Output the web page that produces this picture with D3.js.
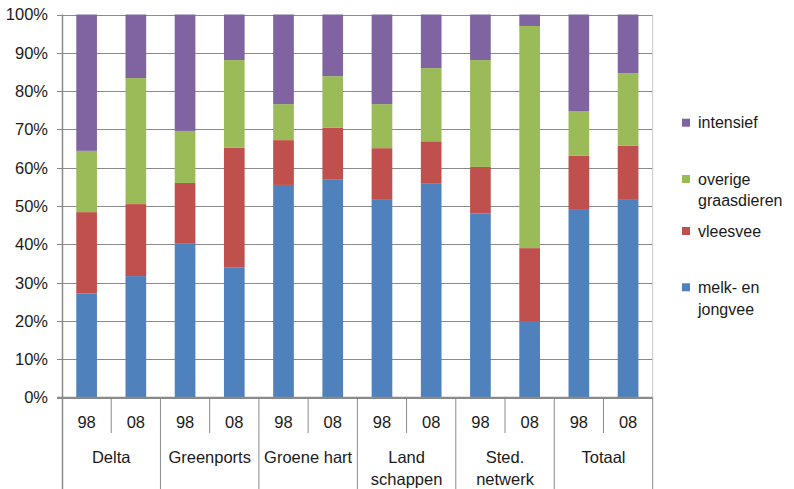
<!DOCTYPE html>
<html><head><meta charset="utf-8">
<script src="https://cdn.jsdelivr.net/npm/d3@7"></script>
<style>body{margin:0;background:#fff}svg{display:block}text{font-family:"Liberation Sans",Arial,sans-serif;fill:#1a1a1a}</style>
</head><body><svg id="c" width="794" height="489"></svg>
<script>
const groups = [["Delta"],["Greenports"],["Groene hart"],["Land","schappen"],["Sted.","netwerk"],["Totaal"]];
const years = ["98","08"];
const seriesNames = ["melk- en jongvee","vleesvee","overige graasdieren","intensief"];
const legendLines = [["melk- en","jongvee"],["vleesvee"],["overige","graasdieren"],["intensief"]];
const colors = ["#4F81BD","#C0504D","#9BBB59","#8064A2"];
const melk      = [27.2,31.7,40.3,34.0,55.5,57.0,51.8,55.8,48.0,19.9,49.2,51.6];
const vlees     = [21.2,18.8,15.7,31.2,11.7,13.4,13.3,11.1,12.2,19.1,13.9,14.1];
const overige   = [16.0,32.9,13.6,22.9, 9.4,13.5,11.5,19.1,27.9,58.0,11.7,19.0];
const intensief = [35.6,16.6,30.4,11.9,23.4,16.1,23.4,14.0,11.9, 3.0,25.2,15.3];
const yTicks = [0,10,20,30,40,50,60,70,80,90,100];

const svg = d3.select("#c");
const L = 62, R = 652.7, T = 14.5, B = 397.5;
const series = [melk, vlees, overige, intensief];
const n = melk.length;
const rows = d3.range(n).map(i => { const o = {i}; seriesNames.forEach((s,k)=>o[s]=series[k][i]); return o; });
const stack = d3.stack().keys(seriesNames)(rows);

const x = d3.scaleBand().domain(d3.range(n)).range([L,R]).paddingInner(0.58).paddingOuter(0.29);
const y = d3.scaleLinear().domain([0,100]).range([B,T]);
const grid = "#8a8a8a";

// gridlines
svg.append("g").selectAll("line").data(yTicks).join("line")
  .attr("x1",L-5).attr("x2",R).attr("y1",d=>Math.round(y(d))+0.5).attr("y2",d=>Math.round(y(d))+0.5)
  .attr("stroke",grid).attr("stroke-width",1);
// frame right
svg.append("line").attr("x1",R).attr("x2",R).attr("y1",T).attr("y2",B).attr("stroke","#c8c8c8");

// bars
svg.append("g").selectAll("g").data(stack).join("g").attr("fill",(d,k)=>colors[k])
  .selectAll("rect").data(d=>d).join("rect")
  .attr("x",(d,i)=>x(i)).attr("width",x.bandwidth())
  .attr("y",d=>y(d[1])).attr("height",d=>y(d[0])-y(d[1]));

// y labels
svg.append("g").selectAll("text").data(yTicks).join("text")
  .attr("x",48).attr("y",d=>y(d)).attr("dy","0.36em").attr("text-anchor","end")
  .attr("font-size",16.5).text(d=>d+"%");

// axes lines
svg.append("line").attr("x1",Math.round(L)+0.5).attr("x2",Math.round(L)+0.5).attr("y1",T).attr("y2",489).attr("stroke",grid).attr("stroke-width",1.5);
svg.append("line").attr("x1",L-5).attr("x2",R).attr("y1",B).attr("y2",B).attr("stroke",grid).attr("stroke-width",1.5);

const step = x.step();
// separators between bars
d3.range(1,n+1).forEach(i=>{
  const xx = L + i*step;
  const isGroup = i%2===0;
  svg.append("line").attr("x1",xx).attr("x2",xx).attr("y1",B).attr("y2",isGroup?489:433)
    .attr("stroke",grid).attr("stroke-width",1);
});
// year labels
svg.append("g").selectAll("text").data(d3.range(n)).join("text")
  .attr("x",i=>x(i)+x.bandwidth()/2).attr("y",422).attr("dy","0.36em").attr("text-anchor","middle")
  .attr("font-size",16.5).text(i=>years[i%2]);
// group labels
groups.forEach((g,gi)=>{
  const cx = L + (gi*2+1)*step;
  g.forEach((line,li)=>{
    svg.append("text").attr("x",cx).attr("y",457+li*22).attr("dy","0.36em").attr("text-anchor","middle")
      .attr("font-size",16.5).text(line);
  });
});

// legend
const legY = [287.3,231,179,122.7];
seriesNames.forEach((s,k)=>{
  svg.append("rect").attr("x",682).attr("y",legY[k]-4).attr("width",8).attr("height",8).attr("fill",colors[k]);
  legendLines[k].forEach((line,li)=>{
    svg.append("text").attr("x",698).attr("y",legY[k]+li*21.5).attr("dy","0.36em").attr("font-size",16).text(line);
  });
});
</script></body></html>
